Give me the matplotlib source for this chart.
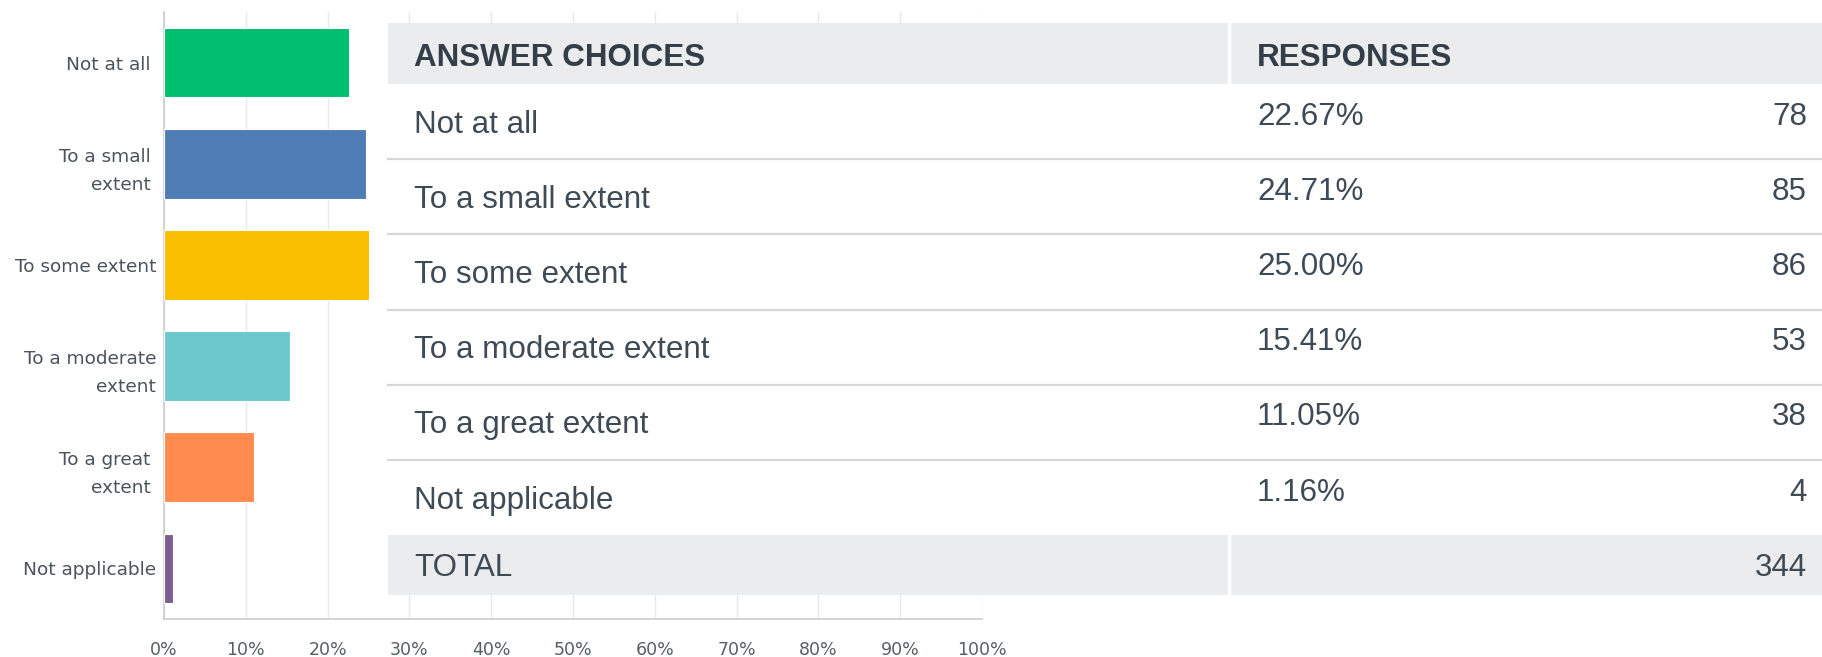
import matplotlib
matplotlib.use("Agg")
import matplotlib.pyplot as plt
from matplotlib.patches import Rectangle

# data
choices = ["Not at all", "To a small extent", "To some extent",
           "To a moderate extent", "To a great extent", "Not applicable"]
bar_labels = ["Not at all ", "To a small \nextent ", "To some extent",
              "To a moderate\nextent", "To a great \nextent ", "Not applicable"]
percents = [22.67, 24.71, 25.00, 15.41, 11.05, 1.16]
counts = [78, 85, 86, 53, 38, 4]
colors = ["#00bf6f", "#507cb6", "#f9be00", "#6bc8cd", "#ff8b4f", "#7d5e90"]
xticks = list(range(0, 101, 10))

W, H = 1822, 657
fig = plt.figure(figsize=(W / 100, H / 100), dpi=100)

# ---- bar chart ----
ax = fig.add_axes([164 / W, 1 - 619 / H, (982 - 164) / W, (619 - 12) / H])
ypos = list(range(len(choices)))
ax.barh(ypos, percents, height=0.69, color=colors, edgecolor="white", linewidth=0.8, zorder=3)
ax.set_xlim(0, 100)
ax.set_ylim(len(choices) - 0.5, -0.5)
ax.set_xticks(xticks)
ax.set_xticklabels([f"{t}%" for t in xticks], fontsize=12.5, color="#555f66", family="DejaVu Sans")
ax.set_yticks(ypos)
ax.set_yticklabels(bar_labels, fontsize=13.3, color="#4a545c", family="DejaVu Sans", linespacing=1.7)
ax.tick_params(length=0)
ax.tick_params(axis="x", pad=15.5)
ax.tick_params(axis="y", pad=5.5)
ax.grid(axis="x", color="#e8e8e8", linewidth=1, zorder=0)
for s in ["top", "right"]:
    ax.spines[s].set_visible(False)
for s in ["left", "bottom"]:
    ax.spines[s].set_color("#cccccc")
    ax.spines[s].set_linewidth(1.2)

# ---- table overlay (pixel coordinates) ----
tax = fig.add_axes([0, 0, 1, 1], zorder=5)
tax.set_xlim(0, W)
tax.set_ylim(H, 0)
tax.axis("off")

left, right, split = 388, W, 1229
head_top, head_bot = 23, 84
row_h = 75.2
n = len(choices)
body_bot = head_bot + n * row_h
total_bot = body_bot + 60
gray = "#ebeced"
txt = "#3e4a55"
fs = 22.6
font = "Liberation Sans"

tax.add_patch(Rectangle((left, head_top), right - left, total_bot - head_top, color="white", lw=0))
tax.add_patch(Rectangle((left, head_top), right - left, head_bot - head_top, color=gray, lw=0))
tax.add_patch(Rectangle((left, body_bot), right - left, total_bot - body_bot, color=gray, lw=0))
for y0, y1 in [(head_top, head_bot), (body_bot, total_bot)]:
    tax.plot([split, split], [y0, y1], color="white", lw=2.5)

tax.text(414, (head_top + head_bot) / 2 + 4, "ANSWER CHOICES", fontsize=fs, fontweight="bold",
         color="#333e48", va="center", family=font)
tax.text(1257, (head_top + head_bot) / 2 + 4, "RESPONSES", fontsize=fs, fontweight="bold",
         color="#333e48", va="center", family=font)

for i, (c, p, k) in enumerate(zip(choices, percents, counts)):
    top = head_bot + i * row_h
    mid = top + row_h / 2
    tax.text(414, mid + 3, c, fontsize=fs, color=txt, va="center", family=font)
    tax.text(1257, mid - 5, f"{p:.2f}%", fontsize=fs, color=txt, va="center", family=font)
    tax.text(1807, mid - 5, str(k), fontsize=fs, color=txt, va="center", ha="right", family=font)
    if i < n - 1:
        tax.plot([left, right], [top + row_h, top + row_h], color="#d5d7d8", lw=1.6)

tax.text(414, (body_bot + total_bot) / 2 + 3, "TOTAL", fontsize=fs, color=txt, va="center", family=font)
tax.text(1807, (body_bot + total_bot) / 2 + 3, str(sum(counts)), fontsize=fs, color=txt,
         va="center", ha="right", family=font)

fig.savefig("out.png", dpi=100)
